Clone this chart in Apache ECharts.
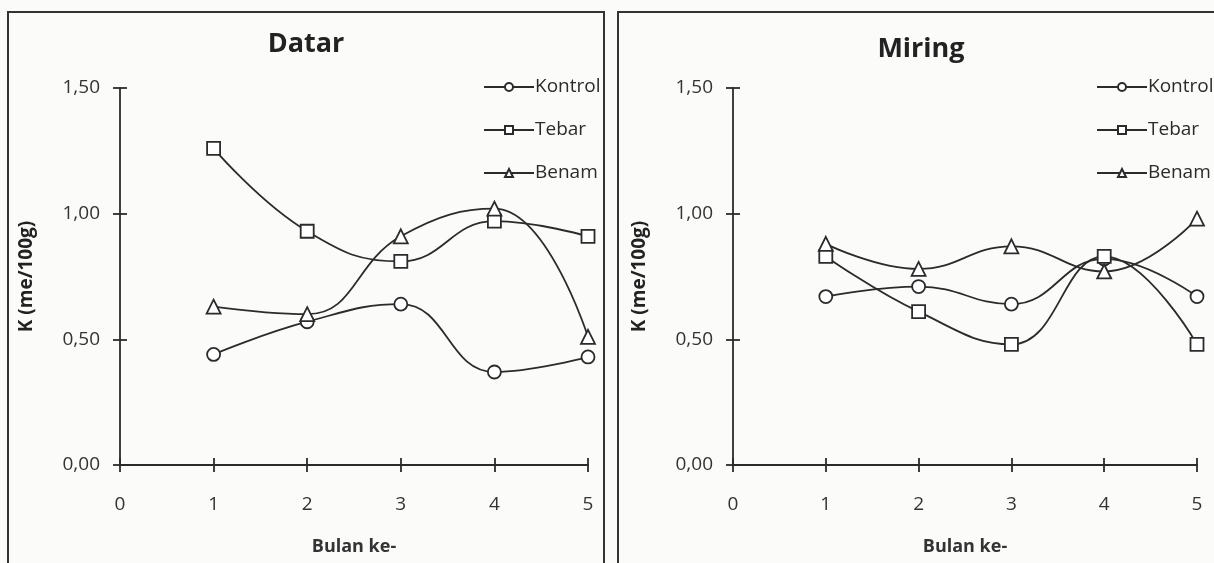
<!DOCTYPE html>
<html>
<head>
<meta charset="utf-8">
<script src="https://cdn.jsdelivr.net/npm/echarts@6/dist/echarts.min.js"></script>
<style>
  html, body { margin: 0; padding: 0; background: #fbfbfa; }
  #chart { width: 1214px; height: 563px; }
</style>
</head>
<body>
<div id="chart"></div>
<script>
// bulan ke- (x axis)
const months = [1, 2, 3, 4, 5];
const yTickLabels = ['0,00', '0,50', '1,00', '1,50'];
const seriesNames = ['Kontrol', 'Tebar', 'Benam'];

// panel Datar
const datarKontrol = [0.44, 0.57, 0.64, 0.37, 0.43];
const datarTebar = [1.26, 0.93, 0.81, 0.97, 0.91];
const datarBenam = [0.63, 0.60, 0.91, 1.02, 0.51];

// panel Miring
const miringKontrol = [0.67, 0.71, 0.64, 0.82, 0.67];
const miringTebar = [0.83, 0.61, 0.48, 0.83, 0.48];
const miringBenam = [0.88, 0.78, 0.87, 0.77, 0.98];

const ink = '#2b2b2b';
const font = 'Open Sans';
const symbols = ['circle', 'rect', 'triangle'];

function pairs(vals) {
    return months.map((m, i) => [m, vals[i]]);
}

function makeSeries(gridIdx, lists) {
    return lists.map((vals, i) => ({
        name: seriesNames[i],
        type: 'line',
        xAxisIndex: gridIdx * 2,
        yAxisIndex: gridIdx * 2,
        data: pairs(vals),
        smooth: 0.45,
        symbol: symbols[i],
        symbolSize: i == 2 ? 14 : 13,
        lineStyle: { color: ink, width: 1.8 },
        itemStyle: { color: '#fff', borderColor: ink, borderWidth: 1.8 },
        emphasis: { disabled: true }
    }));
}

function xAxes(gridIdx) {
    return [{
        type: 'value', gridIndex: gridIdx, position: 'bottom',
        min: 0, max: 5, interval: 1,
        axisLine: { lineStyle: { color: ink, width: 1.8 } },
        axisTick: { length: 7, lineStyle: { color: ink, width: 1.8 } },
        axisLabel: { margin: 30, color: '#333', fontFamily: font, fontSize: 19 },
        splitLine: { show: false },
        name: 'Bulan ke-', nameLocation: 'middle', nameGap: 73,
        nameTextStyle: { color: '#333', fontFamily: font, fontWeight: 'bold', fontSize: 18 }
    }, {
        // inner half of the crossing ticks
        type: 'value', gridIndex: gridIdx, position: 'bottom',
        min: 0, max: 5, interval: 1,
        axisLine: { show: false },
        axisTick: { inside: true, length: 7, lineStyle: { color: ink, width: 1.8 } },
        axisLabel: { show: false },
        splitLine: { show: false }
    }];
}

function yAxes(gridIdx) {
    return [{
        type: 'value', gridIndex: gridIdx, position: 'left',
        min: 0, max: 1.5, interval: 0.5,
        axisLine: { show: true, lineStyle: { color: ink, width: 1.8 } },
        axisTick: { show: true, length: 7, lineStyle: { color: ink, width: 1.8 } },
        axisLabel: {
            margin: 20, color: '#333', fontFamily: font, fontSize: 19,
            formatter: v => yTickLabels[Math.round(v / 0.5)]
        },
        splitLine: { show: false },
        name: 'K (me/100g)', nameLocation: 'middle', nameGap: 84, nameRotate: 90,
        nameTextStyle: { color: '#222', fontFamily: font, fontWeight: 'bold', fontSize: 19 }
    }, {
        type: 'value', gridIndex: gridIdx, position: 'left',
        min: 0, max: 1.5, interval: 0.5,
        axisLine: { show: false },
        axisTick: { show: true, inside: true, length: 7, lineStyle: { color: ink, width: 1.8 } },
        axisLabel: { show: false },
        splitLine: { show: false }
    }];
}

function legendAt(left) {
    return {
        orient: 'vertical', left: left, top: 71,
        itemWidth: 50, itemHeight: 10, itemGap: 21,
        data: seriesNames,
        selectedMode: false,
        textStyle: { color: '#2b2b2b', fontFamily: font, fontSize: 19, lineHeight: 22, padding: [0, 0, 0, -4] }
    };
}

const chart = echarts.init(document.getElementById('chart'), null, { renderer: 'canvas' });
chart.setOption({
    animation: false,
    backgroundColor: '#fbfbfa',
    title: [
        { text: 'Datar', left: 301, top: 26, textAlign: 'center',
          textStyle: { color: '#222', fontFamily: font, fontWeight: 'bold', fontSize: 27 } },
        { text: 'Miring', left: 916, top: 31, textAlign: 'center',
          textStyle: { color: '#222', fontFamily: font, fontWeight: 'bold', fontSize: 27 } }
    ],
    legend: [legendAt(478), legendAt(1091)],
    grid: [
        { left: 120, right: 626, top: 88, bottom: 98, outerBoundsMode: 'none' },
        { left: 733, right: 17, top: 88, bottom: 98, outerBoundsMode: 'none' }
    ],
    xAxis: [...xAxes(0), ...xAxes(1)],
    yAxis: [...yAxes(0), ...yAxes(1)],
    series: [
        ...makeSeries(0, [datarKontrol, datarTebar, datarBenam]),
        ...makeSeries(1, [miringKontrol, miringTebar, miringBenam])
    ],
    graphic: [
        { type: 'rect', shape: { x: 8, y: 12, width: 596, height: 560 },
          style: { fill: 'none', stroke: '#333', lineWidth: 2 }, silent: true },
        { type: 'rect', shape: { x: 618, y: 12, width: 600, height: 560 },
          style: { fill: 'none', stroke: '#333', lineWidth: 2 }, silent: true }
    ]
});
</script>
</body>
</html>
